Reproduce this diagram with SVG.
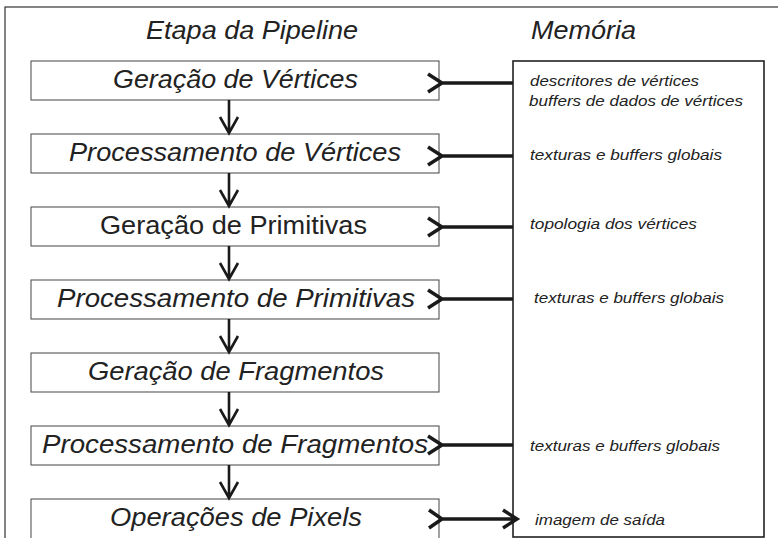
<svg xmlns="http://www.w3.org/2000/svg" width="778" height="538" viewBox="0 0 778 538">
<style>
.frame{fill:none;stroke:#333;stroke-width:1.2}
.box{fill:#fff;stroke:#555;stroke-width:1.1}
.mem{fill:#fff;stroke:#222;stroke-width:1.6}
.h{font-family:"Liberation Sans",Arial,sans-serif;font-size:26px;font-style:italic;fill:#222}
.t{font-family:"Liberation Sans",Arial,sans-serif;font-size:25.5px;font-style:italic;fill:#222}
.u{font-style:normal}
.m{font-family:"Liberation Sans",Arial,sans-serif;font-size:15px;font-style:italic;fill:#222}
.c{fill:none;stroke:#1a1a1a;stroke-width:3.5;stroke-linecap:butt;stroke-linejoin:miter}
.v{fill:none;stroke:#1a1a1a;stroke-width:2.6}
</style>
<rect class="frame" x="5" y="7" width="800" height="600"/>
<text class="h" x="146" y="39" textLength="212" lengthAdjust="spacingAndGlyphs">Etapa da Pipeline</text>
<text class="h" x="531" y="39" textLength="105" lengthAdjust="spacingAndGlyphs">Memória</text>
<g id="memoria">
<rect class="mem" x="513" y="61" width="251" height="476"/>
<text class="m" x="530" y="86" textLength="169" lengthAdjust="spacingAndGlyphs">descritores de vértices</text>
<text class="m" x="529" y="106" textLength="214" lengthAdjust="spacingAndGlyphs">buffers de dados de vértices</text>
<text class="m" x="530" y="160" textLength="192" lengthAdjust="spacingAndGlyphs">texturas e buffers globais</text>
<text class="m" x="530" y="229" textLength="167" lengthAdjust="spacingAndGlyphs">topologia dos vértices</text>
<text class="m" x="534" y="303" textLength="190" lengthAdjust="spacingAndGlyphs">texturas e buffers globais</text>
<text class="m" x="530" y="451" textLength="190" lengthAdjust="spacingAndGlyphs">texturas e buffers globais</text>
<text class="m" x="535" y="525" textLength="130" lengthAdjust="spacingAndGlyphs">imagem de saída</text>
</g>
<g id="n1"><rect class="box" x="31" y="61" width="408" height="39"/><text class="t" x="113" y="88" textLength="245" lengthAdjust="spacingAndGlyphs">Geração de Vértices</text></g>
<g id="n2"><rect class="box" x="31" y="134" width="408" height="39"/><text class="t" x="69" y="161" textLength="332" lengthAdjust="spacingAndGlyphs">Processamento de Vértices</text></g>
<g id="n3"><rect class="box" x="31" y="207" width="408" height="39"/><text class="t u" x="100" y="234" textLength="267" lengthAdjust="spacingAndGlyphs">Geração de Primitivas</text></g>
<g id="n4"><rect class="box" x="31" y="280" width="408" height="39"/><text class="t" x="57" y="307" textLength="358" lengthAdjust="spacingAndGlyphs">Processamento de Primitivas</text></g>
<g id="n5"><rect class="box" x="31" y="353" width="408" height="39"/><text class="t" x="88" y="380" textLength="296" lengthAdjust="spacingAndGlyphs">Geração de Fragmentos</text></g>
<g id="n6"><rect class="box" x="31" y="426" width="408" height="39"/><text class="t" x="42" y="453" textLength="386" lengthAdjust="spacingAndGlyphs">Processamento de Fragmentos</text></g>
<g id="n7"><rect class="box" x="31" y="499" width="408" height="60"/><text class="t" x="110" y="526" textLength="252" lengthAdjust="spacingAndGlyphs">Operações de Pixels</text></g>
<g id="connectors">
<path class="v" d="M229 100V133M220 117L229 133L238 117"/>
<path class="v" d="M229 173V206M220 190L229 206L238 190"/>
<path class="v" d="M229 246V279M220 263L229 279L238 263"/>
<path class="v" d="M229 319V352M220 336L229 352L238 336"/>
<path class="v" d="M229 392V425M220 409L229 425L238 409"/>
<path class="v" d="M229 465V498M220 482L229 498L238 482"/>
<path class="c" d="M428 74L442 83L428 92M442 83H513"/>
<path class="c" d="M428 147L442 156L428 165M442 156H513"/>
<path class="c" d="M428 218L442 227L428 236M442 227H513"/>
<path class="c" d="M428 290L442 299L428 308M442 299H513"/>
<path class="c" d="M428 436L442 445L428 454M442 445H513"/>
<path class="c" d="M429 510L442 519L429 528M442 519H517M503 510L517 519L503 528"/>
</g>
</svg>
